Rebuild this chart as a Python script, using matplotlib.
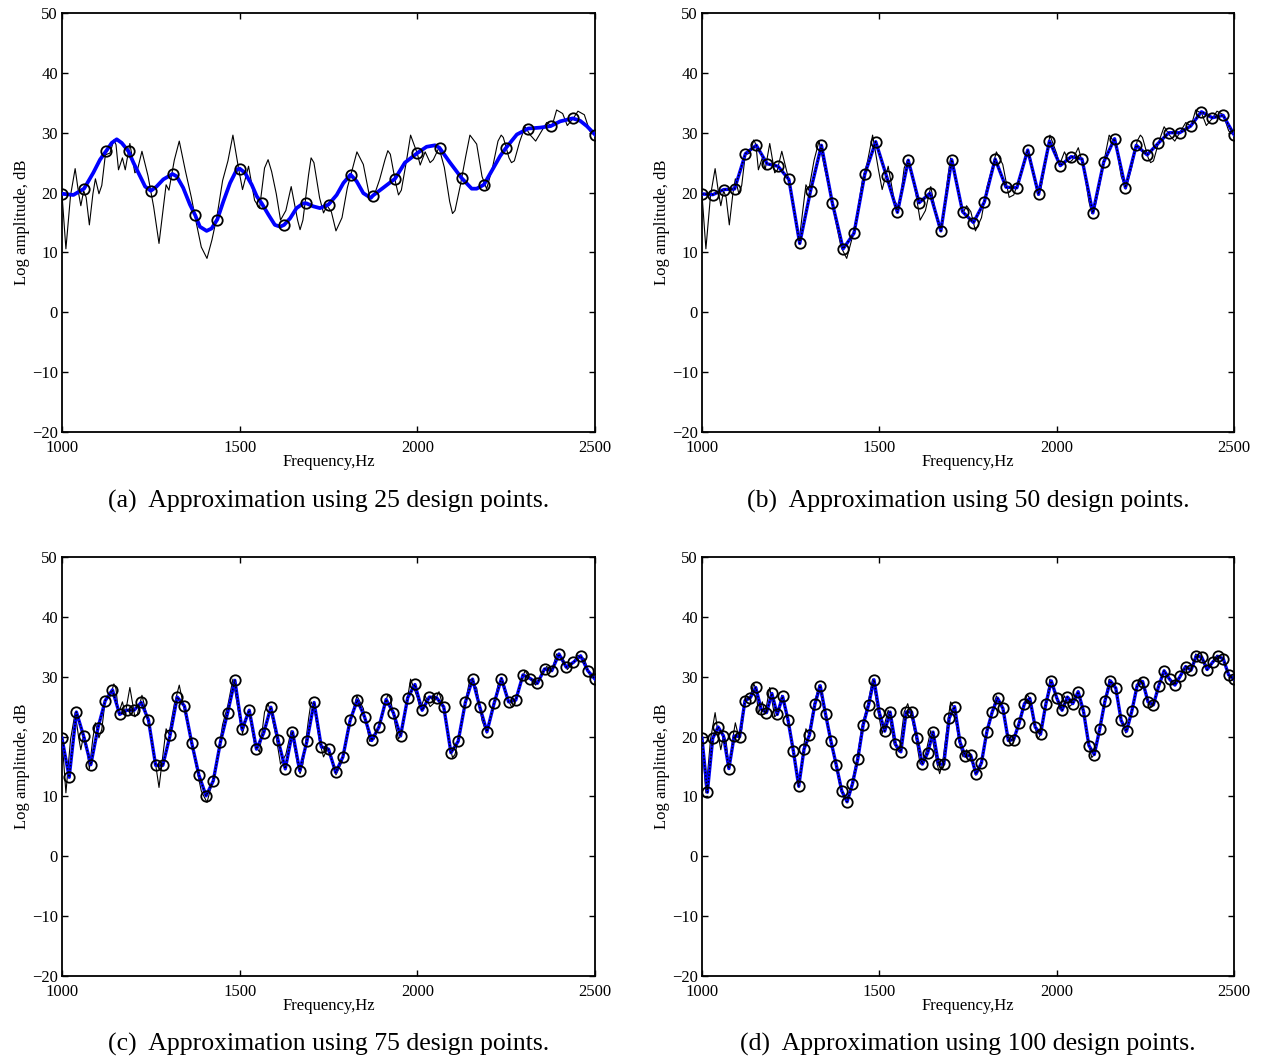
import matplotlib.pyplot as plt
import numpy as np

plt.rcParams['font.family'] = ['Liberation Serif', 'DejaVu Serif']

# true log amplitude (thin black line)
true_freq = [1000, 1011, 1024, 1037, 1047, 1053, 1061, 1068, 1077, 1087, 1094, 1104,
             1112, 1122, 1135, 1146, 1152, 1159, 1170, 1178, 1191, 1205, 1212, 1225,
             1242, 1258, 1273, 1286, 1293, 1301, 1316, 1330, 1347, 1364, 1377, 1392,
             1408, 1422, 1436, 1452, 1467, 1481, 1497, 1508, 1525, 1542, 1556, 1570,
             1580, 1590, 1603, 1615, 1630, 1645, 1663, 1670, 1678, 1694, 1701, 1709,
             1725, 1736, 1746, 1758, 1771, 1788, 1803, 1818, 1830, 1848, 1866, 1879,
             1894, 1909, 1917, 1924, 1939, 1947, 1955, 1970, 1981, 2000, 2008, 2022,
             2036, 2045, 2061, 2076, 2091, 2099, 2106, 2121, 2136, 2148, 2167, 2182,
             2195, 2212, 2227, 2236, 2242, 2258, 2265, 2273, 2288, 2303, 2318, 2333,
             2348, 2364, 2379, 2392, 2409, 2422, 2439, 2452, 2470, 2485, 2500]
true_db = [19.7, 10.6, 19.5, 24.0, 19.8, 17.8, 20.3, 19.2, 14.6, 19.8, 22.3, 19.8,
           21.2, 26.3, 26.6, 28.8, 28.0, 23.8, 25.8, 23.8, 28.2, 23.3, 23.7, 26.9,
           22.8, 17.6, 11.5, 17.9, 21.3, 20.4, 25.4, 28.6, 23.7, 19.2, 15.2, 10.9,
           9.0, 12.1, 16.0, 22.0, 25.3, 29.6, 24.0, 20.5, 24.4, 18.7, 17.4, 24.1,
           25.5, 23.5, 19.8, 15.4, 17.0, 21.0, 15.4, 13.8, 15.4, 23.0, 25.8, 25.0,
           19.1, 16.6, 17.8, 16.8, 13.6, 15.8, 20.8, 24.1, 26.8, 24.7, 19.2, 19.6,
           22.2, 25.5, 27.0, 26.4, 21.6, 19.6, 20.4, 25.5, 29.6, 26.5, 24.6, 26.8,
           25.0, 25.5, 27.5, 24.2, 18.5, 16.5, 17.0, 21.2, 26.0, 29.6, 28.1, 22.7,
           20.6, 24.3, 28.6, 29.6, 29.2, 25.8, 25.0, 25.3, 28.5, 31.0, 29.6, 28.6,
           30.1, 31.7, 31.1, 33.8, 33.2, 31.2, 32.4, 33.6, 33.0, 30.3, 29.6]

# values at the design points
pts_25 = [19.8, 20.65, 27.0, 26.9, 20.3, 23.1, 16.2, 15.5, 24.0, 18.2, 14.6, 18.2, 18.0,
          23.0, 19.5, 22.3, 26.6, 27.5, 22.4, 21.3, 27.5, 30.7, 31.1, 32.4, 29.7]
# smooth approximation curve for 25 points (blue)
approx_25_freq = [1000, 1032, 1062, 1088, 1107, 1125, 1140, 1154, 1168, 1187, 1201,
                  1220, 1234, 1250, 1266, 1285, 1311, 1323, 1341, 1360, 1375, 1388,
                  1407, 1421, 1437, 1454, 1473, 1492, 1500, 1515, 1534, 1548, 1562,
                  1581, 1599, 1614, 1625, 1642, 1660, 1679, 1688, 1707, 1726, 1750,
                  1773, 1792, 1812, 1829, 1848, 1869, 1875, 1904, 1937, 1965, 2000,
                  2026, 2050, 2062, 2092, 2125, 2153, 2167, 2187, 2214, 2233, 2250,
                  2280, 2312, 2345, 2375, 2402, 2437, 2458, 2477, 2500]
approx_25_db = [19.8, 19.6, 20.65, 23.3, 25.5, 27.0, 28.3, 28.9, 28.3, 26.9, 25.0,
                22.7, 21.0, 20.3, 21.0, 22.2, 23.1, 22.7, 20.8, 18.0, 16.2, 14.3,
                13.6, 14.0, 15.5, 18.5, 21.6, 23.85, 24.0, 23.3, 21.3, 19.4, 18.2,
                16.3, 14.6, 14.3, 14.6, 15.7, 17.4, 18.2, 18.2, 17.7, 17.4, 18.0,
                19.6, 21.6, 23.0, 21.9, 19.9, 19.1, 19.5, 20.8, 22.3, 25.0, 26.6,
                27.65, 27.9, 27.5, 25.0, 22.4, 20.65, 20.65, 21.3, 24.1, 26.1, 27.5,
                29.7, 30.7, 30.85, 31.1, 31.9, 32.4, 32.0, 31.1, 29.7]
pts_50 = [19.76, 19.65, 20.5, 20.6, 26.5, 27.9, 24.8, 24.4, 22.2, 11.5,
          20.3, 27.9, 18.3, 10.6, 13.2, 23.1, 28.5, 22.7, 16.7, 25.4,
          18.3, 19.9, 13.6, 25.5, 16.8, 15.0, 18.4, 25.6, 20.9, 20.8,
          27.1, 19.7, 28.6, 24.5, 26.0, 25.6, 16.6, 25.1, 29.0, 20.8,
          27.9, 26.3, 28.2, 30.0, 30.0, 31.1, 33.5, 32.5, 32.9, 29.7]
pts_75 = [19.7, 13.2, 24.1, 20.1, 15.3, 21.5, 26.0, 27.8, 23.7, 24.4,
          24.4, 25.7, 22.8, 15.2, 15.2, 20.2, 26.6, 25.1, 19.0, 13.6,
          10.1, 12.6, 19.1, 24.0, 29.4, 21.2, 24.4, 17.9, 20.6, 24.9,
          19.4, 14.6, 20.8, 14.3, 19.2, 25.7, 18.3, 17.9, 14.0, 16.6,
          22.7, 26.1, 23.3, 19.35, 21.6, 26.2, 24.0, 20.1, 26.5, 28.7,
          24.4, 26.6, 26.5, 24.96, 17.3, 19.2, 25.7, 29.6, 24.96, 20.8,
          25.6, 29.7, 25.8, 26.1, 30.3, 29.7, 28.9, 31.3, 31.0, 33.8,
          31.6, 32.4, 33.5, 31.0, 29.6]
pts_100 = [19.7, 10.7, 19.7, 21.6, 20.1, 14.65, 20.1, 20.0, 26.0, 26.5,
           28.2, 24.6, 24.0, 27.2, 23.7, 26.7, 22.8, 17.6, 11.7, 17.95,
           20.3, 25.4, 28.5, 23.7, 19.2, 15.2, 10.95, 9.1, 12.1, 16.3,
           22.0, 25.3, 29.5, 24.0, 20.9, 24.1, 18.7, 17.45, 24.1, 24.1,
           19.8, 15.4, 17.3, 20.75, 15.4, 15.4, 23.05, 25.0, 19.1, 16.7,
           16.9, 13.75, 15.6, 20.8, 24.1, 26.4, 24.7, 19.35, 19.5, 22.2,
           25.5, 26.4, 21.6, 20.4, 25.5, 29.3, 26.5, 24.4, 26.6, 25.5,
           27.5, 24.2, 18.5, 17.0, 21.2, 26.0, 29.3, 28.1, 22.7, 20.9,
           24.3, 28.6, 29.2, 25.8, 25.3, 28.5, 31.0, 29.6, 28.6, 30.1,
           31.7, 31.1, 33.5, 33.25, 31.2, 32.4, 33.4, 33.0, 30.3, 29.6]

captions = ["(a)  Approximation using 25 design points.",
            "(b)  Approximation using 50 design points.",
            "(c)  Approximation using 75 design points.",
            "(d)  Approximation using 100 design points."]

W, H = 1261, 1058
fig = plt.figure(figsize=(W / 100, H / 100), dpi=100)

# axes boxes in pixels: left, top, right, bottom
boxes = [(62, 13, 595, 432), (702, 13, 1234, 432),
         (62, 557, 595, 976), (702, 557, 1234, 976)]
cap_y = [501, 1044]

for k, pts in enumerate([pts_25, pts_50, pts_75, pts_100]):
    l, t, r, b = boxes[k]
    ax = fig.add_axes([l / W, 1 - b / H, (r - l) / W, (b - t) / H])
    f = np.linspace(1000, 2500, len(pts))

    ax.plot(true_freq, true_db, color='k', lw=0.8, zorder=2)
    if k == 0:
        ax.plot(approx_25_freq, approx_25_db, color='#0000ff', lw=2.7, zorder=3,
                solid_joinstyle='round')
    else:
        ax.plot(f, pts, color='#0000ff', lw=2.4, zorder=3)
        ax.plot(f, pts, color='k', lw=1.1, ls=(0, (1, 1.2)), zorder=4)
    ax.plot(f, pts, 'o', mfc='none', mec='k', ms=7.5, mew=1.3, zorder=5)

    ax.set_xlim(1000, 2500)
    ax.set_ylim(-20, 50)
    ax.set_xticks([1000, 1500, 2000, 2500])
    ax.set_yticks(range(-20, 51, 10))
    ax.tick_params(direction='in', top=True, right=True, length=4, width=1,
                   labelsize=12)
    ax.tick_params(axis='x', pad=6)
    ax.tick_params(axis='y', pad=3)
    for s in ax.spines.values():
        s.set_linewidth(1.3)
    ax.set_xlabel('Frequency,Hz', fontsize=12, labelpad=-2)
    ax.set_ylabel('Log amplitude, dB', fontsize=12, labelpad=1)

    fig.text((l + r) / 2 / W, 1 - cap_y[k // 2] / H, captions[k],
             ha='center', va='center', fontsize=18.5)

fig.savefig('out.png', dpi=100)
